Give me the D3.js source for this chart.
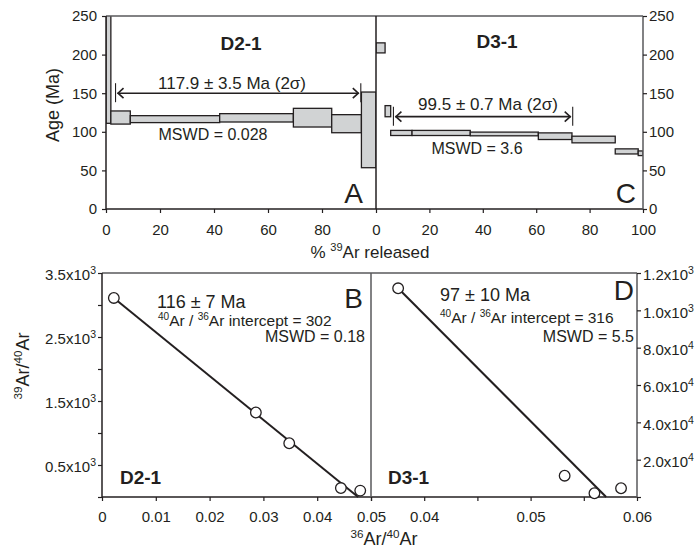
<!DOCTYPE html>
<html>
<head>
<meta charset="utf-8">
<script src="https://cdn.jsdelivr.net/npm/d3@7"></script>
<style>
  body { margin: 0; background: #fff; }
  text { font-family: "Liberation Sans", Arial, Helvetica, sans-serif; fill: #231f20; }
</style>
</head>
<body>
<div id="chart"></div>
<script>
// ---- data ----
// age spectra: step boundaries (% 39Ar released), apparent age and error (Ma)
const d21Pct = [0, 1.8, 9.0, 42.1, 69.4, 83.6, 94.6, 100];
const d21Age = [300, 118.5, 116.4, 118.1, 118.3, 110.5, 102.5];
const d21Err = [189, 8.5, 4.5, 5.4, 12.1, 11.7, 49];
const d21Plateau = [3.9, 94.0];
const d21ArrowAge = 150;

const d31Pct = [0, 3.4, 5.5, 13.5, 35.3, 60.8, 73.4, 89.6, 98.2, 100];
const d31Age = [208.7, 126.7, 98.5, 98.5, 97.2, 94.3, 90.0, 74.6, 72.2];
const d31Err = [6.5, 7.2, 3.3, 3.3, 2.4, 4.3, 4.3, 3.3, 3.0];
const d31Plateau = [6.9, 73.3];
const d31ArrowAge = 119.6;

// inverse isochrons: 36Ar/40Ar and 39Ar/40Ar
const d21X = [0.0022, 0.0286, 0.0348, 0.0444, 0.0480];
const d21Y = [3.11, 1.32, 0.84, 0.14, 0.10];
const d21FitX = [0.0022, 0.0476];
const d21FitY = [3.11, 0];

const d31X = [0.03755, 0.0532, 0.0560, 0.0585];
const d31Y = [1.118, 0.114, 0.02, 0.047];
const d31FitX = [0.03755, 0.0571];
const d31FitY = [1.118, 0];

// ticks
const ageTicks = [0, 50, 100, 150, 200, 250];
const pctTicksA = [0, 20, 40, 60, 80];
const pctTicksC = [0, 20, 40, 60, 80, 100];
const isoXTicksB = [0, 0.01, 0.02, 0.03, 0.04, 0.05];
const isoXLabelsB = ["0", "0.01", "0.02", "0.03", "0.04", "0.05"];
const isoXTicksD = [0.035, 0.04, 0.045, 0.05, 0.055, 0.06];
const isoXLabelsD = ["", "0.04", "", "0.05", "", "0.06"];
const isoYTicksB = [0, 0.5, 1, 1.5, 2, 2.5, 3, 3.5];
const isoYLabelsB = ["", "0.5x10", "", "1.5x10", "", "2.5x10", "", "3.5x10"];
const isoYExpB = ["", "3", "", "3", "", "3", "", "3"];
const isoYTicksD = [0, 0.2, 0.4, 0.6, 0.8, 1.0, 1.2];
const isoYLabelsD = ["", "2.0x10", "4.0x10", "6.0x10", "8.0x10", "1.0x10", "1.2x10"];
const isoYExpD = ["", "4", "4", "4", "4", "3", "3"];

const ink = "#231f20";
const barFill = "#d1d3d4";
const font = '"Liberation Sans", Arial, Helvetica, sans-serif';

const svg = d3.select("#chart").append("svg")
    .attr("width", 700)
    .attr("height", 551);

// scales
const yAge = d3.scaleLinear([0, 250], [209, 16]);
const xA = d3.scaleLinear([0, 100], [106, 376]);
const xC = d3.scaleLinear([0, 100], [376, 643]);
const xB = d3.scaleLinear([0, 0.05], [102, 371]);
const yB = d3.scaleLinear([0, 3.5], [497, 273]);
const xD = d3.scaleLinear([0.035, 0.06], [371, 637]);
const yD = d3.scaleLinear([0, 1.2], [497, 273]);

function styleAxis(g) {
  g.attr("font-size", 15).attr("font-family", font);
  g.select(".domain").remove();
  g.selectAll("line").attr("stroke", ink).attr("stroke-width", 1.2);
  g.selectAll("text").attr("fill", ink);
}

function addSup(g, exps) {
  g.selectAll(".tick text").each(function (d, i) {
    if (!exps[i]) return;
    d3.select(this).append("tspan")
      .attr("font-size", 10.5)
      .attr("dy", -6)
      .text(exps[i]);
  });
}

// clip paths for the spectra
const defs = svg.append("defs");
defs.append("clipPath").attr("id", "clipA").append("rect")
  .attr("x", xA(0)).attr("y", yAge(250)).attr("width", xA(100) - xA(0)).attr("height", yAge(0) - yAge(250));
defs.append("clipPath").attr("id", "clipC").append("rect")
  .attr("x", xC(0)).attr("y", yAge(250)).attr("width", xC(100) - xC(0)).attr("height", yAge(0) - yAge(250));

// ---- spectra ----
function drawSpectrum(x, pct, age, err, clip) {
  const steps = age.map((a, i) => ({ x0: pct[i], x1: pct[i + 1], lo: a - err[i], hi: a + err[i] }));
  svg.append("g").attr("clip-path", `url(#${clip})`)
    .selectAll("rect")
    .data(steps)
    .join("rect")
    .attr("x", d => x(d.x0))
    .attr("width", d => x(d.x1) - x(d.x0))
    .attr("y", d => yAge(d.hi))
    .attr("height", d => yAge(d.lo) - yAge(d.hi))
    .attr("fill", barFill)
    .attr("stroke", ink)
    .attr("stroke-width", 1.3);
}
drawSpectrum(xA, d21Pct, d21Age, d21Err, "clipA");
drawSpectrum(xC, d31Pct, d31Age, d31Err, "clipC");

function drawPlateau(x, range, age) {
  const g = svg.append("g").attr("stroke", ink).attr("stroke-width", 1.6).attr("fill", "none");
  const x0 = x(range[0]), x1 = x(range[1]), y = yAge(age);
  g.append("line").attr("x1", x0 + 1).attr("x2", x1 - 1).attr("y1", y).attr("y2", y);
  g.append("path").attr("d", `M${x0 + 7},${y - 5}L${x0 + 1.5},${y}L${x0 + 7},${y + 5}`);
  g.append("path").attr("d", `M${x1 - 7},${y - 5}L${x1 - 1.5},${y}L${x1 - 7},${y + 5}`);
  g.append("line").attr("x1", x0 - 1).attr("x2", x0 - 1).attr("y1", y - 10).attr("y2", y + 9).attr("stroke-width", 1.1);
  g.append("line").attr("x1", x1 + 1).attr("x2", x1 + 1).attr("y1", y - 10).attr("y2", y + 9).attr("stroke-width", 1.1);
}
drawPlateau(xA, d21Plateau, d21ArrowAge);
drawPlateau(xC, d31Plateau, d31ArrowAge);

// frames, top
const frame = svg.append("g").attr("stroke", ink).attr("stroke-width", 1.5);
frame.append("line").attr("x1", xA(0)).attr("x2", xC(100)).attr("y1", yAge(250)).attr("y2", yAge(250)).attr("stroke", "#58595b");
frame.append("line").attr("x1", xA(0)).attr("x2", xC(100)).attr("y1", yAge(0)).attr("y2", yAge(0));
frame.append("line").attr("x1", xA(0)).attr("x2", xA(0)).attr("y1", yAge(0)).attr("y2", yAge(250));
frame.append("line").attr("x1", xC(0)).attr("x2", xC(0)).attr("y1", yAge(0)).attr("y2", yAge(250));
frame.append("line").attr("x1", xC(100)).attr("x2", xC(100)).attr("y1", yAge(0)).attr("y2", yAge(250)).attr("stroke", "#58595b");

// frames, bottom
frame.append("line").attr("x1", xB(0)).attr("x2", xD(0.06)).attr("y1", yB(3.5)).attr("y2", yB(3.5)).attr("stroke", "#58595b");
frame.append("line").attr("x1", xB(0)).attr("x2", xD(0.06)).attr("y1", yB(0)).attr("y2", yB(0));
frame.append("line").attr("x1", xB(0)).attr("x2", xB(0)).attr("y1", yB(0)).attr("y2", yB(3.5));
frame.append("line").attr("x1", xD(0.035)).attr("x2", xD(0.035)).attr("y1", yB(0)).attr("y2", yB(3.5)).attr("stroke", "#58595b");
frame.append("line").attr("x1", xD(0.06)).attr("x2", xD(0.06)).attr("y1", yB(0)).attr("y2", yB(3.5)).attr("stroke", "#58595b");

// ---- axes, top ----
svg.append("g").attr("transform", `translate(${xA(0)},0)`)
  .call(d3.axisLeft(yAge).tickValues(ageTicks).tickSize(4).tickPadding(5))
  .call(styleAxis);
svg.append("g").attr("transform", `translate(${xC(100)},0)`)
  .call(d3.axisRight(yAge).tickValues(ageTicks).tickSize(4).tickPadding(2))
  .call(styleAxis);
svg.append("g").attr("transform", `translate(0,${yAge(0)})`)
  .call(d3.axisBottom(xA).tickValues(pctTicksA).tickSize(4).tickPadding(11))
  .call(styleAxis);
svg.append("g").attr("transform", `translate(0,${yAge(0)})`)
  .call(d3.axisBottom(xC).tickValues(pctTicksC).tickSize(4).tickPadding(11))
  .call(styleAxis);

// ---- axes, bottom ----
svg.append("g").attr("transform", `translate(0,${yB(0)})`)
  .call(d3.axisBottom(xB).tickValues(isoXTicksB).tickFormat((d, i) => isoXLabelsB[i]).tickSize(4).tickPadding(10))
  .call(styleAxis);
svg.append("g").attr("transform", `translate(0,${yB(0)})`)
  .call(d3.axisBottom(xD).tickValues(isoXTicksD).tickFormat((d, i) => isoXLabelsD[i]).tickSize(4).tickPadding(10))
  .call(styleAxis);
svg.append("g").attr("transform", `translate(${xB(0)},0)`)
  .call(d3.axisLeft(yB).tickValues(isoYTicksB).tickFormat((d, i) => isoYLabelsB[i]).tickSize(4).tickPadding(2))
  .call(styleAxis)
  .call(g => g.selectAll(".tick text").attr("dy", "0.45em"))
  .call(g => addSup(g, isoYExpB));
svg.append("g").attr("transform", `translate(${xD(0.06)},0)`)
  .call(d3.axisRight(yD).tickValues(isoYTicksD).tickFormat((d, i) => isoYLabelsD[i]).tickSize(4).tickPadding(2))
  .call(styleAxis)
  .call(g => g.selectAll(".tick text").attr("dy", "0.45em"))
  .call(g => addSup(g, isoYExpD));

// ---- isochrons ----
function drawIso(x, y, xs, ys, fx, fy) {
  const line = d3.line().x(d => x(d[0])).y(d => y(d[1]));
  svg.append("path")
    .datum(d3.zip(fx, fy))
    .attr("d", line)
    .attr("fill", "none")
    .attr("stroke", ink)
    .attr("stroke-width", 2);
  svg.append("g").selectAll("circle")
    .data(d3.zip(xs, ys))
    .join("circle")
    .attr("cx", d => x(d[0]))
    .attr("cy", d => y(d[1]))
    .attr("r", 5.3)
    .attr("fill", "#fff")
    .attr("stroke", ink)
    .attr("stroke-width", 1.3);
}
drawIso(xB, yB, d21X, d21Y, d21FitX, d21FitY);
drawIso(xD, yD, d31X, d31Y, d31FitX, d31FitY);

// ---- text ----
// parts: plain strings, or {sup: "..."} for a raised small run
function label(x, y, parts, size, anchor, weight) {
  const t = svg.append("text")
    .attr("x", x).attr("y", y)
    .attr("font-size", size)
    .attr("text-anchor", anchor || "start")
    .attr("font-weight", weight || "normal");
  const rise = size * 0.4;
  let raised = false;
  parts.forEach(p => {
    const sp = t.append("tspan");
    if (typeof p === "string") {
      sp.text(p);
      if (raised) sp.attr("dy", rise);
      raised = false;
    } else {
      sp.attr("font-size", size * 0.65).text(p.sup);
      if (!raised) sp.attr("dy", -rise);
      raised = true;
    }
  });
  return t;
}

label(241, 50, ["D2-1"], 19, "middle", "bold");
label(232, 89, ["117.9 ± 3.5 Ma (2σ)"], 17, "middle");
label(213, 140, ["MSWD = 0.028"], 16, "middle");
label(363, 203, ["A"], 28, "end");

label(497, 48, ["D3-1"], 19, "middle", "bold");
label(488, 110, ["99.5 ± 0.7 Ma (2σ)"], 17, "middle");
label(477, 154, ["MSWD = 3.6"], 16, "middle");
label(636, 203, ["C"], 28, "end");

label(157, 308, ["116 ± 7 Ma"], 18);
label(158, 326, [{ sup: "40" }, "Ar / ", { sup: "36" }, "Ar intercept = 302"], 15.5);
label(365, 342, ["MSWD = 0.18"], 16, "end");
label(363, 308, ["B"], 28, "end");
label(120, 484, ["D2-1"], 19, "start", "bold");

label(440, 301, ["97 ± 10 Ma"], 18);
label(440, 323, [{ sup: "40" }, "Ar / ", { sup: "36" }, "Ar intercept = 316"], 15.5);
label(634, 342, ["MSWD = 5.5"], 16, "end");
label(634, 300, ["D"], 28, "end");
label(388, 484, ["D3-1"], 19, "start", "bold");

// axis titles
label(370, 258, ["% ", { sup: "39" }, "Ar released"], 17, "middle");
label(384, 545, [{ sup: "36" }, "Ar/", { sup: "40" }, "Ar"], 18, "middle");
label(0, 0, ["Age (Ma)"], 18, "middle").attr("transform", "translate(59,105) rotate(-90)");
label(0, 0, [{ sup: "39" }, "Ar/", { sup: "40" }, "Ar"], 18, "middle").attr("transform", "translate(29,366) rotate(-90)");
</script>
</body>
</html>
